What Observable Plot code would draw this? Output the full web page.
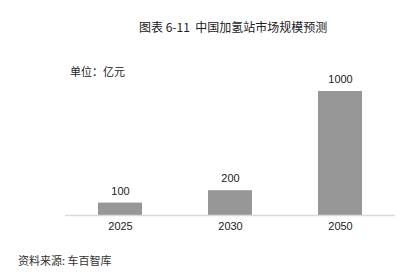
<!DOCTYPE html>
<html><head><meta charset="utf-8">
<script src="https://cdn.jsdelivr.net/npm/d3@7"></script>
<script src="https://cdn.jsdelivr.net/npm/@observablehq/plot@0.6"></script>
<style>
body{margin:0;background:#fff;width:400px;height:275px;overflow:hidden;position:relative;font-family:"Liberation Sans","Noto Sans CJK SC",sans-serif;}
.t{position:absolute;white-space:nowrap;font-family:"Noto Sans CJK SC",sans-serif;color:#222;line-height:1;}
#chart{position:absolute;left:0;top:0;}
</style></head><body>
<div id="chart"></div>
<div class="t" id="title" style="left:139px;top:21px;font-size:12px;">图表 6-11&nbsp; 中国加氢站市场规模预测</div>
<div class="t" id="unit" style="left:70px;top:66px;font-size:11px;">单位：亿元</div>
<div class="t" id="src" style="left:18px;top:255px;font-size:11px;color:#333;">资料来源: 车百智库</div>
<script>
const years = ["2025", "2030", "2050"];
const values = [100, 200, 1000];
const data = years.map((y, i) => ({year: y, value: values[i]}));
const plot = Plot.plot({
  width: 400,
  height: 275,
  marginLeft: 65,
  marginRight: 5,
  marginTop: 91,
  marginBottom: 60,
  style: {fontFamily: "Liberation Sans, Arial, sans-serif", fontSize: "11px", color: "#222", background: "transparent"},
  x: {domain: years, paddingInner: 0.6, paddingOuter: 0.3, label: null, tickSize: 0, tickPadding: 7},
  y: {domain: [0, 1000], axis: null},
  marks: [
    Plot.barY(data, {x: "year", y: "value", fill: "#979797"}),
    Plot.ruleY([0], {stroke: "#d9d9d9", strokeWidth: 1.5}),
    Plot.text(data, {x: "year", y: "value", text: d => String(d.value), dy: -12, fontSize: 11, fill: "#222"})
  ]
});
document.getElementById("chart").appendChild(plot);
</script>
</body></html>
